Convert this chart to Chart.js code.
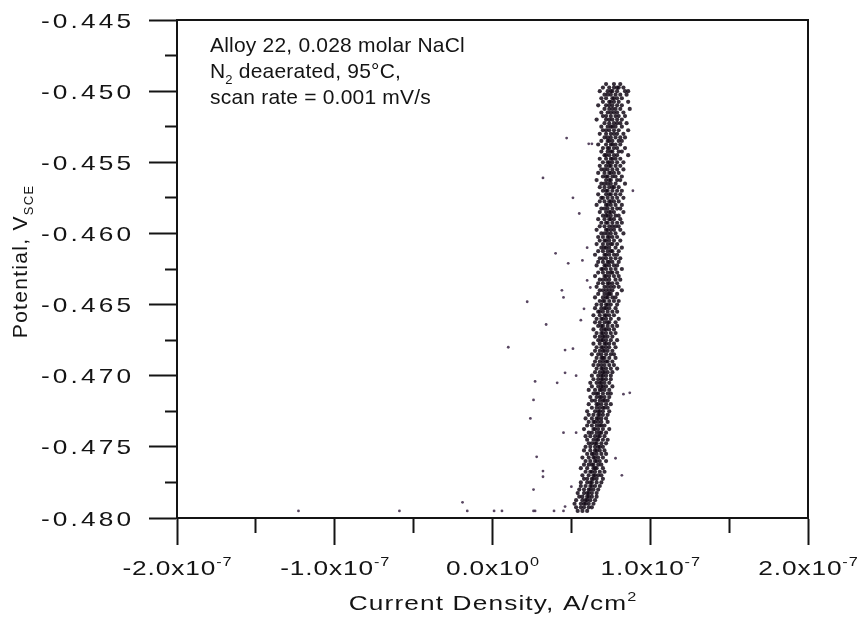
<!DOCTYPE html>
<html>
<head>
<meta charset="utf-8">
<title>Alloy 22 - Potential vs Current Density</title>
<script src="https://cdn.jsdelivr.net/npm/chart.js@4.4.1/dist/chart.umd.min.js"></script>
<style>
  html, body { margin: 0; padding: 0; background: #fff; }
  #wrap { width: 857px; height: 623px; }
</style>
</head>
<body>
<div id="wrap"><canvas id="grafica" width="857" height="623"></canvas></div>
<script>
// ──────────────────────────────────────────────
//  Datos
// ──────────────────────────────────────────────

const X_MIN = -2e-7, X_MAX = 2e-7, X_STEP = 0.5e-7;      // A/cm²
const Y_MIN = -0.480, Y_MAX = -0.445, Y_STEP = 0.0025;   // V SCE
const CURRENT_UNIT = 1e-8;                               // corrientes abajo en 1e-8 A/cm²

const NOTE_LINES = [
  [{ t: 'Alloy 22, 0.028 molar NaCl' }],
  [{ t: 'N' }, { t: '2', sub: true }, { t: ' deaerated, 95°C,' }],
  [{ t: 'scan rate = 0.001 mV/s' }],
];

// banda densa: [potencial V, corrientes x1e-8]
const bandRows = [
  [-0.44950, [7.2, 7.7, 8.1]],
  [-0.44975, [7.0, 7.4, 7.7, 8.0, 8.3, 7.9]],
  [-0.45000, [6.8, 7.3, 7.6, 7.9, 8.4, 8.6, 7.5]],
  [-0.45025, [7.1, 7.5, 7.8, 8.1, 7.3, 8.5]],
  [-0.45050, [6.9, 7.2, 7.6, 7.9, 8.2, 7.7]],
  [-0.45075, [7.0, 7.4, 7.7, 8.0, 8.6, 7.5]],
  [-0.45100, [6.7, 7.2, 7.6, 7.9, 8.2, 7.4]],
  [-0.45125, [7.1, 7.4, 7.8, 8.1, 7.6, 8.7]],
  [-0.45150, [6.9, 7.3, 7.5, 7.9, 8.3, 7.7]],
  [-0.45175, [7.0, 7.5, 7.8, 8.0, 7.2, 8.4]],
  [-0.45200, [6.6, 7.2, 7.6, 7.9, 8.2, 7.4]],
  [-0.45225, [7.1, 7.4, 7.7, 8.1, 7.9, 8.5]],
  [-0.45250, [6.9, 7.3, 7.6, 7.8, 8.2, 7.5]],
  [-0.45275, [7.0, 7.4, 7.7, 8.0, 7.2, 8.6]],
  [-0.45300, [6.8, 7.2, 7.5, 7.9, 8.3, 7.7]],
  [-0.45325, [7.1, 7.5, 7.8, 8.1, 7.3, 8.4]],
  [-0.45350, [6.9, 7.3, 7.6, 8.0, 8.2, 7.4]],
  [-0.45375, [6.7, 7.2, 7.5, 7.8, 8.1, 7.6]],
  [-0.45400, [7.0, 7.4, 7.7, 7.9, 8.4, 7.3]],
  [-0.45425, [6.9, 7.3, 7.6, 8.0, 8.2, 7.5]],
  [-0.45450, [7.1, 7.4, 7.7, 7.9, 8.6, 7.2]],
  [-0.45475, [6.8, 7.2, 7.5, 7.8, 8.1, 7.6]],
  [-0.45500, [7.0, 7.3, 7.6, 7.9, 8.3, 7.4]],
  [-0.45525, [6.8, 7.2, 7.5, 7.8, 8.1, 7.4]],
  [-0.45550, [6.9, 7.3, 7.6, 7.9, 8.3, 7.1]],
  [-0.45575, [6.7, 7.1, 7.4, 7.7, 8.0, 7.5]],
  [-0.45600, [7.0, 7.3, 7.6, 7.8, 8.2, 7.2]],
  [-0.45625, [6.6, 7.2, 7.5, 7.9, 8.1, 7.4]],
  [-0.45650, [6.9, 7.3, 7.5, 7.8, 8.4, 7.1]],
  [-0.45675, [6.8, 7.1, 7.4, 7.7, 8.0, 7.6]],
  [-0.45700, [7.0, 7.3, 7.6, 7.9, 8.2, 7.2]],
  [-0.45725, [6.7, 7.2, 7.5, 7.8, 8.1, 7.4]],
  [-0.45750, [6.9, 7.3, 7.6, 7.9, 8.3, 7.0]],
  [-0.45775, [6.8, 7.1, 7.4, 7.7, 8.0, 7.5]],
  [-0.45800, [6.6, 7.2, 7.5, 7.8, 8.2, 7.3]],
  [-0.45825, [6.9, 7.3, 7.6, 7.9, 8.1, 7.1]],
  [-0.45850, [6.8, 7.2, 7.4, 7.7, 8.3, 7.5]],
  [-0.45875, [7.0, 7.3, 7.5, 7.8, 8.0, 7.2]],
  [-0.45900, [6.7, 7.1, 7.4, 7.7, 8.1, 7.5]],
  [-0.45925, [6.9, 7.2, 7.6, 7.9, 8.2, 7.3]],
  [-0.45950, [6.8, 7.1, 7.4, 7.8, 8.0, 7.6]],
  [-0.45975, [6.6, 7.2, 7.5, 7.7, 8.1, 7.3]],
  [-0.46000, [6.9, 7.3, 7.5, 7.8, 8.3, 7.1]],
  [-0.46025, [6.7, 7.0, 7.3, 7.6, 7.9, 7.4]],
  [-0.46050, [6.8, 7.1, 7.4, 7.7, 8.1, 7.2]],
  [-0.46075, [6.6, 7.0, 7.3, 7.5, 7.9, 7.6]],
  [-0.46100, [6.9, 7.2, 7.4, 7.8, 8.2, 7.1]],
  [-0.46125, [6.7, 7.0, 7.3, 7.6, 8.0, 7.5]],
  [-0.46150, [6.5, 7.1, 7.4, 7.7, 7.9, 7.2]],
  [-0.46175, [6.8, 7.2, 7.5, 7.8, 8.1, 7.0]],
  [-0.46200, [6.7, 7.0, 7.3, 7.6, 8.0, 7.4]],
  [-0.46225, [6.6, 7.1, 7.4, 7.7, 7.9, 7.2]],
  [-0.46250, [6.9, 7.2, 7.5, 7.8, 8.2, 7.0]],
  [-0.46275, [6.7, 7.0, 7.3, 7.6, 7.9, 7.5]],
  [-0.46300, [6.5, 7.1, 7.4, 7.7, 8.0, 7.2]],
  [-0.46325, [6.8, 7.2, 7.4, 7.8, 8.1, 7.0]],
  [-0.46350, [6.7, 7.0, 7.3, 7.6, 7.9, 7.4]],
  [-0.46375, [6.6, 7.1, 7.3, 7.7, 8.0, 7.5]],
  [-0.46400, [6.8, 7.0, 7.4, 7.6, 8.2, 7.2]],
  [-0.46425, [6.7, 7.1, 7.3, 7.5, 7.9, 7.4]],
  [-0.46450, [6.5, 7.0, 7.2, 7.6, 7.8, 7.3]],
  [-0.46475, [6.8, 7.1, 7.4, 7.7, 8.0, 7.0]],
  [-0.46500, [6.6, 6.9, 7.2, 7.5, 7.9, 7.3]],
  [-0.46525, [6.5, 6.9, 7.2, 7.4, 7.8, 7.1]],
  [-0.46550, [6.7, 7.0, 7.3, 7.6, 7.9, 6.8]],
  [-0.46575, [6.4, 6.8, 7.1, 7.4, 7.7, 7.2]],
  [-0.46600, [6.6, 7.0, 7.2, 7.5, 8.0, 6.9]],
  [-0.46625, [6.5, 6.8, 7.1, 7.4, 7.8, 7.3]],
  [-0.46650, [6.7, 7.0, 7.3, 7.6, 7.9, 6.9]],
  [-0.46675, [6.4, 6.9, 7.1, 7.4, 7.7, 7.2]],
  [-0.46700, [6.6, 6.9, 7.2, 7.5, 7.8, 7.0]],
  [-0.46725, [6.5, 6.8, 7.0, 7.3, 7.6, 7.1]],
  [-0.46750, [6.7, 7.0, 7.2, 7.5, 7.9, 6.9]],
  [-0.46775, [6.4, 6.8, 7.1, 7.4, 7.7, 7.2]],
  [-0.46800, [6.6, 6.9, 7.2, 7.4, 7.8, 7.0]],
  [-0.46825, [6.5, 6.8, 7.0, 7.3, 7.6, 7.1]],
  [-0.46850, [6.3, 6.9, 7.2, 7.5, 7.7, 6.7]],
  [-0.46875, [6.6, 6.9, 7.1, 7.4, 7.8, 7.0]],
  [-0.46900, [6.5, 6.8, 7.0, 7.3, 7.6, 7.2]],
  [-0.46925, [6.4, 6.7, 7.1, 7.4, 7.7, 6.9]],
  [-0.46950, [6.6, 6.9, 7.2, 7.5, 7.9, 7.0]],
  [-0.46975, [6.5, 6.8, 7.0, 7.3, 7.6, 7.1]],
  [-0.47000, [6.3, 6.7, 7.0, 7.2, 7.5, 6.9]],
  [-0.47025, [6.4, 6.7, 7.0, 7.2, 7.5, 6.9]],
  [-0.47050, [6.2, 6.6, 6.9, 7.1, 7.4, 6.8]],
  [-0.47075, [6.3, 6.7, 6.9, 7.2, 7.6, 7.0]],
  [-0.47100, [6.1, 6.5, 6.8, 7.1, 7.4, 6.9]],
  [-0.47125, [6.4, 6.7, 7.0, 7.3, 7.5, 6.6]],
  [-0.47150, [6.2, 6.6, 6.9, 7.1, 7.4, 6.8]],
  [-0.47175, [6.3, 6.5, 6.8, 7.0, 7.3, 7.1]],
  [-0.47200, [6.1, 6.6, 6.9, 7.2, 7.5, 6.7]],
  [-0.47225, [6.3, 6.6, 6.8, 7.1, 7.3, 7.0]],
  [-0.47250, [6.0, 6.5, 6.8, 7.0, 7.4, 6.7]],
  [-0.47275, [6.1, 6.4, 6.7, 7.0, 7.3, 6.8]],
  [-0.47300, [5.9, 6.3, 6.6, 6.9, 7.2, 6.7]],
  [-0.47325, [6.1, 6.4, 6.7, 6.9, 7.3, 6.5]],
  [-0.47350, [6.0, 6.3, 6.6, 6.8, 7.1, 6.9]],
  [-0.47375, [5.8, 6.4, 6.7, 7.0, 7.4, 6.5]],
  [-0.47400, [6.1, 6.3, 6.6, 6.9, 7.2, 6.8]],
  [-0.47425, [5.9, 6.2, 6.5, 6.8, 7.1, 6.7]],
  [-0.47450, [6.0, 6.4, 6.7, 7.0, 7.3, 6.6]],
  [-0.47475, [6.1, 6.3, 6.6, 6.9, 7.2, 6.5]],
  [-0.47500, [5.9, 6.2, 6.5, 6.8, 7.0, 6.7]],
  [-0.47525, [5.8, 6.2, 6.5, 6.8, 7.1, 6.6]],
  [-0.47550, [6.0, 6.3, 6.6, 6.9, 7.2, 6.4]],
  [-0.47575, [5.7, 6.1, 6.4, 6.7, 7.0, 6.5]],
  [-0.47600, [5.9, 6.2, 6.5, 6.8, 7.2, 6.6]],
  [-0.47625, [5.8, 6.1, 6.4, 6.7, 6.9, 6.3]],
  [-0.47650, [5.6, 6.0, 6.4, 6.6, 7.0, 6.5]],
  [-0.47675, [5.9, 6.2, 6.5, 6.8, 7.1, 6.3]],
  [-0.47700, [5.7, 6.1, 6.4, 6.7, 6.9, 6.5]],
  [-0.47725, [5.8, 6.0, 6.3, 6.6, 7.0, 6.4]],
  [-0.47750, [5.6, 6.0, 6.3, 6.6, 6.9, 6.2]],
  [-0.47775, [5.6, 5.9, 6.2, 6.5, 6.8, 6.3]],
  [-0.47800, [5.5, 5.8, 6.1, 6.4, 6.7, 6.2]],
  [-0.47825, [5.4, 5.8, 6.1, 6.3, 6.6, 6.0]],
  [-0.47850, [5.5, 5.7, 6.0, 6.3, 6.6, 6.1]],
  [-0.47875, [5.3, 5.7, 5.9, 6.2, 6.5, 6.0]],
  [-0.47900, [5.2, 5.6, 5.9, 6.1, 6.4, 5.8]],
  [-0.47925, [5.3, 5.6, 5.8, 6.1, 6.3]],
  [-0.47950, [5.4, 5.7, 6.0]],
];

// puntos sueltos fuera de la banda
const strayPotential = [
  -0.4533, -0.4561, -0.4575, -0.4586, -0.4537, -0.4537, -0.4570, -0.4614, -0.4621, -0.4619,
  -0.4648, -0.4640, -0.4645, -0.4664, -0.4680, -0.4682, -0.4681, -0.4698, -0.4700, -0.4661,
  -0.4653, -0.4633, -0.4638, -0.4610, -0.4704, -0.4705, -0.4717, -0.4730, -0.4740, -0.4740,
  -0.4757, -0.4767, -0.4771, -0.4780, -0.4778, -0.4789, -0.4795, -0.4795, -0.4795, -0.4795,
  -0.4795, -0.4795, -0.4792, -0.4795, -0.4713, -0.4712, -0.4770, -0.4758, -0.4795, -0.4795,
];
const strayCurrent = [
  4.7, 3.2, 5.1, 5.5, 6.1, 6.3, 8.9, 4.0, 4.8, 5.7,
  2.2, 4.4, 4.5, 3.4, 1.0, 4.6, 5.1, 4.6, 5.3, 5.6,
  5.8, 6.0, 6.2, 6.0, 2.7, 4.1, 2.6, 2.4, 4.5, 5.3,
  2.8, 3.2, 3.2, 2.6, 5.0, -1.9, -1.6, 0.1, 0.6, 2.6,
  2.7, 3.9, 4.6, 4.5, 8.3, 8.7, 8.2, 7.8, -12.3, -5.9,
];

// ──────────────────────────────────────────────
//  Estilo
// ──────────────────────────────────────────────

const INK = '#141414';
const FONT = '"Liberation Sans", Arial, Helvetica, sans-serif';
const TEXT_SIZE = 21;
const AXIS_STRETCH = 1.25;   // el texto de los ejes se ve ensanchado en la figura
const Y_LABEL_SPACING = 2.5;
const X_LABEL_SPACING = 0.7;
const X_TITLE_SPACING = 0.9;
const Y_TITLE_SPACING = 1.3;
const NOTE_SPACING = 0.2;

const esMayorY = v => Math.abs(Math.round(v * 10000)) % 50 === 0;
const esMayorX = v => Math.abs(Math.round(v * 1e8)) % 10 === 0;

// ──────────────────────────────────────────────
//  Puntos
// ──────────────────────────────────────────────

const bandPoints = [];
for (const [p, row] of bandRows) {
  for (const c of row) bandPoints.push({ x: c * CURRENT_UNIT, y: p });
}
const strayPoints = strayPotential.map((p, i) => ({ x: strayCurrent[i] * CURRENT_UNIT, y: p }));

// ──────────────────────────────────────────────
//  Texto con sub/superíndices
// ──────────────────────────────────────────────

// align: 'left' | 'center' | 'right';  sx: estiramiento horizontal
function drawRich(ctx, pieces, x, y, opts) {
  const { size, align = 'left', sx = 1, spacing = 0 } = opts;
  const small = Math.round(size * 0.63);
  ctx.save();
  ctx.letterSpacing = `${spacing}px`;
  const widths = pieces.map(pc => {
    ctx.font = `${pc.sub || pc.sup ? small : size}px ${FONT}`;
    return ctx.measureText(pc.t).width;
  });
  const total = widths.reduce((a, b) => a + b, 0) - spacing;
  ctx.translate(x, y);
  ctx.scale(sx, 1);
  let cx = align === 'center' ? -total / 2 : align === 'right' ? -total : 0;
  ctx.textAlign = 'left';
  ctx.textBaseline = 'alphabetic';
  pieces.forEach((pc, i) => {
    ctx.font = `${pc.sub || pc.sup ? small : size}px ${FONT}`;
    const dy = pc.sub ? size * 0.28 : pc.sup ? -size * 0.42 : 0;
    ctx.fillText(pc.t, cx, dy);
    cx += widths[i];
  });
  ctx.restore();
}

const extras = {
  id: 'extras',
  beforeDraw(chart) {
    const ctx = chart.ctx;
    ctx.save();
    ctx.fillStyle = '#fff';
    ctx.fillRect(0, 0, chart.width, chart.height);
    ctx.restore();
  },
  afterDraw(chart) {
    const ctx = chart.ctx;
    const { left, right, top, bottom } = chart.chartArea;
    const xs = chart.scales.x;
    const ys = chart.scales.y;

    ctx.save();
    // marco superior y derecho
    ctx.strokeStyle = INK;
    ctx.lineWidth = 2;
    ctx.beginPath();
    ctx.moveTo(left, top);
    ctx.lineTo(right, top);
    ctx.lineTo(right, bottom);
    ctx.stroke();

    ctx.fillStyle = INK;

    // etiquetas del eje y
    for (const tick of ys.ticks) {
      if (!esMayorY(tick.value)) continue;
      const py = ys.getPixelForValue(tick.value);
      drawRich(ctx, [{ t: tick.value.toFixed(3) }], 131, py + 7.5,
        { size: TEXT_SIZE, align: 'right', sx: AXIS_STRETCH, spacing: Y_LABEL_SPACING });
    }

    // etiquetas del eje x: 1.0x10^-7
    for (const tick of xs.ticks) {
      if (!esMayorX(tick.value)) continue;
      const px = xs.getPixelForValue(tick.value);
      const m = tick.value / 1e-7;
      const mant = (Math.abs(m) < 1e-9 ? 0 : m).toFixed(1);
      const exp = Math.abs(m) < 1e-9 ? '0' : '-7';
      drawRich(ctx, [{ t: mant + 'x10' }, { t: exp, sup: true }], px, bottom + 57,
        { size: TEXT_SIZE, align: 'center', sx: AXIS_STRETCH, spacing: X_LABEL_SPACING });
    }

    // título eje x
    drawRich(ctx, [{ t: 'Current Density, A/cm' }, { t: '2', sup: true }],
      (left + right) / 2, bottom + 92,
      { size: TEXT_SIZE, align: 'center', sx: AXIS_STRETCH, spacing: X_TITLE_SPACING });

    // título eje y (rotado)
    ctx.save();
    ctx.translate(27, 262);
    ctx.rotate(-Math.PI / 2);
    drawRich(ctx, [{ t: 'Potential, V' }, { t: 'SCE', sub: true }], 0, 0,
      { size: TEXT_SIZE, align: 'center', spacing: Y_TITLE_SPACING });
    ctx.restore();

    // anotación
    NOTE_LINES.forEach((line, i) => {
      drawRich(ctx, line, left + 33, top + 32 + i * 26,
        { size: TEXT_SIZE, spacing: NOTE_SPACING });
    });
    ctx.restore();
  },
};

// ──────────────────────────────────────────────
//  Gráfica
// ──────────────────────────────────────────────

new Chart(document.getElementById('grafica'), {
  type: 'scatter',
  data: {
    datasets: [
      {
        label: 'band',
        data: bandPoints,
        pointRadius: 2.1,
        pointBorderWidth: 0,
        pointBackgroundColor: 'rgba(20, 10, 24, 0.85)',
      },
      {
        label: 'stray',
        data: strayPoints,
        pointRadius: 1.4,
        pointBorderWidth: 0,
        pointBackgroundColor: 'rgba(70, 50, 80, 0.9)',
      },
    ],
  },
  options: {
    responsive: false,
    animation: false,
    events: [],
    layout: { padding: { top: 20, right: 49, left: 0, bottom: 0 } },
    plugins: { legend: { display: false }, tooltip: { enabled: false } },
    scales: {
      x: {
        type: 'linear',
        position: 'bottom',
        min: X_MIN,
        max: X_MAX,
        ticks: { stepSize: X_STEP, display: false, autoSkip: false, maxTicksLimit: 30 },
        grid: {
          drawOnChartArea: false,
          tickLength: 27,
          tickWidth: 2,
          tickColor: INK,
          tickBorderDash: c => (c.tick && esMayorX(c.tick.value) ? [] : [14, 60]),
        },
        border: { color: INK, width: 2 },
        afterFit: s => { s.height = 105; },
      },
      y: {
        type: 'linear',
        position: 'left',
        min: Y_MIN,
        max: Y_MAX,
        ticks: { stepSize: Y_STEP, display: false, autoSkip: false, maxTicksLimit: 30 },
        grid: {
          drawOnChartArea: false,
          tickLength: 28,
          tickWidth: 2,
          tickColor: INK,
          tickBorderDash: c => (c.tick && esMayorY(c.tick.value) ? [] : [0, 16, 12, 0]),
        },
        border: { color: INK, width: 2 },
        afterFit: s => { s.width = 177; },
      },
    },
  },
  plugins: [extras],
});
</script>
</body>
</html>
